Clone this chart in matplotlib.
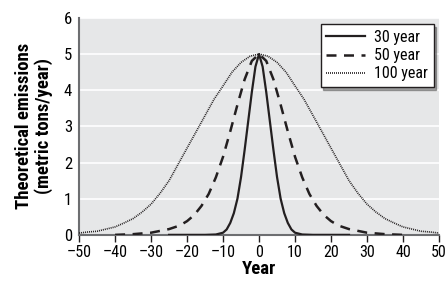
import matplotlib
matplotlib.use("Agg")
from matplotlib import pyplot as plt

# values
years_30 = [-25, -15, -12, -10, -9, -8, -7, -6, -5, -4, -3, -2, -1, 0,
            1, 2, 3, 4, 5, 6, 7, 8, 9, 10, 12, 15, 25]
emis_30 = [0, 0, 0.01, 0.06, 0.15, 0.33, 0.6, 1.0, 1.6, 2.35, 3.15, 3.95, 4.65, 5.0,
           4.65, 3.95, 3.15, 2.35, 1.6, 1.0, 0.6, 0.33, 0.15, 0.06, 0.01, 0, 0]

years_50 = [-40, -35, -30, -25, -22, -20, -18, -16, -14, -12, -10, -8, -6, -4, -2, 0,
            2, 4, 6, 8, 10, 12, 14, 16, 18, 20, 22, 25, 30, 35, 40]
emis_50 = [0, 0.02, 0.06, 0.16, 0.26, 0.38, 0.55, 0.8, 1.13, 1.59, 2.16, 2.86, 3.6, 4.3, 4.81, 5.0,
           4.81, 4.3, 3.6, 2.86, 2.16, 1.59, 1.13, 0.8, 0.55, 0.38, 0.26, 0.16, 0.06, 0.02, 0]

years_100 = [-50, -47.5, -45, -42.5, -40, -37.5, -35, -32.5, -30, -27.5, -25, -22.5, -20,
             -17.5, -15, -12.5, -10, -7.5, -5, -2.5, 0, 2.5, 5, 7.5, 10, 12.5, 15, 17.5,
             20, 22.5, 25, 27.5, 30, 32.5, 35, 37.5, 40, 42.5, 45, 47.5, 50]
emis_100 = [0.05, 0.08, 0.1, 0.16, 0.22, 0.33, 0.45, 0.63, 0.85, 1.15, 1.5, 1.95, 2.4,
            2.85, 3.3, 3.75, 4.12, 4.5, 4.77, 4.94, 5.0, 4.94, 4.77, 4.5, 4.12, 3.75, 3.3, 2.85,
            2.4, 1.95, 1.5, 1.15, 0.85, 0.63, 0.45, 0.33, 0.22, 0.16, 0.1, 0.08, 0.05]

x_ticks = [-50, -40, -30, -20, -10, 0, 10, 20, 30, 40, 50]
y_ticks = [0, 1, 2, 3, 4, 5, 6]

plt.rcParams['font.family'] = ['Roboto Condensed', 'Liberation Sans Narrow', 'Roboto', 'DejaVu Sans']

fig = plt.figure(figsize=(4.47, 2.84), dpi=100)
ax = fig.add_axes([0.177, 0.173, 0.805, 0.764])
ax.set_facecolor('#e6e7e8')

for y in y_ticks[1:]:
    ax.axhline(y, color='white', lw=1.2, zorder=1)

ink = '#231f20'
ax.plot(years_30, emis_30, color=ink, lw=1.6, ls='-', label='30 year', zorder=3)
ax.plot(years_50, emis_50, color=ink, lw=1.8, ls=(0, (4, 3)), label='50 year', zorder=3)
ax.plot(years_100, emis_100, color=ink, lw=1.2, ls=(0, (0.6, 0.6)), label='100 year', zorder=3)

ax.set_xlim(-50, 50)
ax.set_ylim(0, 6)
ax.set_xticks(x_ticks)
ax.set_xticklabels([str(t).replace('-', '\u2013') for t in x_ticks])
ax.set_yticks(y_ticks)

for s in ['top', 'right']:
    ax.spines[s].set_visible(False)
for s in ['left', 'bottom']:
    ax.spines[s].set_color('#6d6e71')
    ax.spines[s].set_linewidth(1.5)
    ax.spines[s].set_zorder(2)

ax.tick_params(axis='x', direction='out', length=5, width=1, color='#231f20',
               labelsize=11.5, pad=2)
ax.tick_params(axis='y', length=0, labelsize=12, pad=5)

ax.set_xlabel('Year', fontsize=13.5, fontweight='bold', labelpad=0)
ax.set_ylabel('Theoretical emissions\n(metric tons/year)', fontsize=13.5,
              fontweight='bold', labelpad=8, linespacing=1.05)

leg = ax.legend(loc='upper right', bbox_to_anchor=(0.985, 0.97), borderaxespad=0,
                fontsize=11.5, frameon=True, fancybox=False, shadow=True, framealpha=1,
                edgecolor=ink, handlelength=2.4, handletextpad=0.6,
                borderpad=0.35, labelspacing=0.2)
leg.get_frame().set_linewidth(1.0)

fig.savefig('out.png', dpi=100)
